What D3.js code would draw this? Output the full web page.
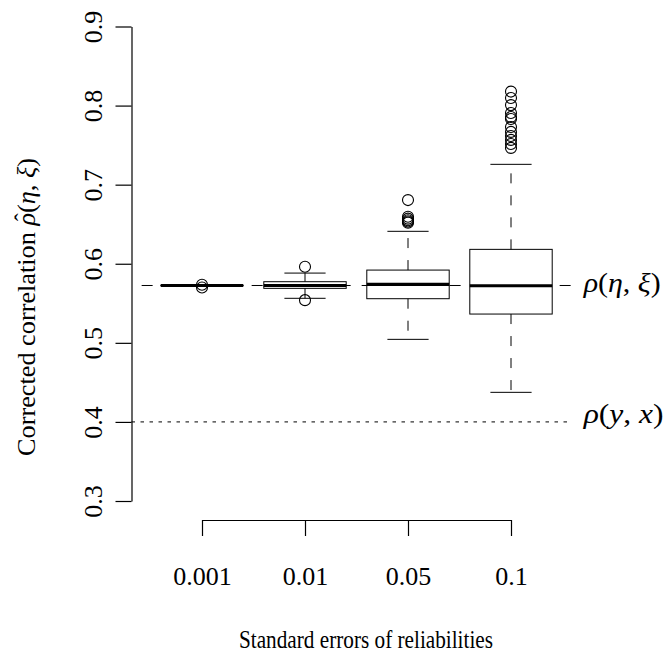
<!DOCTYPE html>
<html>
<head>
<meta charset="utf-8">
<script src="https://cdn.jsdelivr.net/npm/d3@7"></script>
<style>
  body { margin: 0; background: #fff; }
  svg { display: block; }
  text { font-family: "Liberation Serif", "DejaVu Serif", serif; fill: #000; }
</style>
</head>
<body>
<div id="chart"></div>
<script>
// groups = standard errors of reliabilities
const groups = ["0.001", "0.01", "0.05", "0.1"];
const lowerWhisker = [0.5722, 0.5563, 0.5044, 0.4374];
const lowerHinge   = [0.5723, 0.5689, 0.5558, 0.5364];
const medians      = [0.5725, 0.5725, 0.5740, 0.5722];
const upperHinge   = [0.5727, 0.5773, 0.5920, 0.6182];
const upperWhisker = [0.5729, 0.5882, 0.6410, 0.7257];
const outliers = [
  [0.5735, 0.5700],
  [0.5962, 0.5540],
  [0.6805, 0.6595, 0.6570, 0.6550, 0.6535, 0.6520],
  [0.8177, 0.8095, 0.8006, 0.7906, 0.7855, 0.7830, 0.7729, 0.7667, 0.7616, 0.7566, 0.7515, 0.7465]
];
const yTicks = [0.3, 0.4, 0.5, 0.6, 0.7, 0.8, 0.9];
const rhoTrue = 0.5725;   // rho(eta, xi)
const rhoObs = 0.4;       // rho(y, x)

const width = 668, height = 663;
const yAxisX = 131.5, xAxisY = 520;
const boxWex = 0.8;
const serif = "'Liberation Serif', 'DejaVu Serif', serif";

const x = d3.scaleLinear().domain([1, 4]).range([202, 511]);
const y = d3.scaleLinear().domain([0.3, 0.9]).range([501, 26.5]);

const svg = d3.select("#chart").append("svg")
  .attr("width", width)
  .attr("height", height)
  .attr("font-family", serif);

// y axis
const gy = svg.append("g")
  .attr("transform", `translate(${yAxisX},0)`)
  .call(d3.axisLeft(y).tickValues(yTicks).tickSize(16).tickSizeOuter(0).tickFormat(d3.format(".1f")))
  .attr("font-family", serif)
  .attr("font-size", 26);
gy.selectAll("path, line").attr("stroke", "#000").attr("stroke-width", 1.2);
gy.selectAll("text")
  .attr("transform", "rotate(-90)")
  .attr("x", 0).attr("y", -30).attr("dy", 0)
  .attr("text-anchor", "middle");

// x axis
const gx = svg.append("g")
  .attr("transform", `translate(0,${xAxisY})`)
  .call(d3.axisBottom(x).tickValues([1, 2, 3, 4]).tickSize(16).tickSizeOuter(0).tickFormat(i => groups[i - 1]))
  .attr("font-family", serif)
  .attr("font-size", 26);
gx.selectAll("path, line").attr("stroke", "#000").attr("stroke-width", 1.2);
gx.selectAll("text").attr("y", 65).attr("dy", 0);

// boxes
const boxes = groups.map((g, i) => ({
  i: i + 1, lo: lowerWhisker[i], q1: lowerHinge[i], med: medians[i],
  q3: upperHinge[i], hi: upperWhisker[i], out: outliers[i]
}));
const halfBox = (x(2) - x(1)) * boxWex / 2;
const halfCap = halfBox / 2;

const bg = svg.append("g").selectAll("g").data(boxes).join("g");

// whiskers (dashed)
bg.append("line")
  .attr("x1", d => x(d.i)).attr("x2", d => x(d.i))
  .attr("y1", d => y(d.q3)).attr("y2", d => y(d.hi))
  .attr("stroke", "#000").attr("stroke-dasharray", "10,12");
bg.append("line")
  .attr("x1", d => x(d.i)).attr("x2", d => x(d.i))
  .attr("y1", d => y(d.q1)).attr("y2", d => y(d.lo))
  .attr("stroke", "#000").attr("stroke-dasharray", "10,12");

// caps
bg.selectAll(".cap").data(d => [d.lo, d.hi].map(v => ({ i: d.i, v }))).join("line")
  .attr("class", "cap")
  .attr("x1", d => x(d.i) - halfCap).attr("x2", d => x(d.i) + halfCap)
  .attr("y1", d => y(d.v)).attr("y2", d => y(d.v))
  .attr("stroke", "#000");

// box
bg.append("rect")
  .attr("x", d => x(d.i) - halfBox)
  .attr("width", halfBox * 2)
  .attr("y", d => y(d.q3))
  .attr("height", d => y(d.q1) - y(d.q3))
  .attr("fill", "none").attr("stroke", "#000");

// median
bg.append("line")
  .attr("x1", d => x(d.i) - halfBox).attr("x2", d => x(d.i) + halfBox)
  .attr("y1", d => y(d.med)).attr("y2", d => y(d.med))
  .attr("stroke", "#000").attr("stroke-width", 3.2);

// outliers
bg.selectAll("circle").data(d => d.out.map(v => ({ i: d.i, v }))).join("circle")
  .attr("cx", d => x(d.i)).attr("cy", d => y(d.v))
  .attr("r", 5.5)
  .attr("fill", "none").attr("stroke", "#000").attr("stroke-width", 1.1);

// reference lines
svg.append("line")
  .attr("x1", x(0.414)).attr("x2", x(4.59))
  .attr("y1", y(rhoTrue)).attr("y2", y(rhoTrue))
  .attr("stroke", "#000").attr("stroke-dasharray", "11,11");
svg.append("line")
  .attr("x1", yAxisX).attr("x2", x(4.55))
  .attr("y1", y(rhoObs)).attr("y2", y(rhoObs))
  .attr("stroke", "#000").attr("stroke-dasharray", "3.5,5.5");

// right-hand labels
function mathLabel(parts, xPos, yPos, len) {
  const t = svg.append("text")
    .attr("x", xPos).attr("y", yPos)
    .attr("textLength", len).attr("lengthAdjust", "spacingAndGlyphs")
    .style("font-size", "28px");
  parts.forEach(p => t.append("tspan").text(p[0]).style("font-style", p[1] ? "italic" : "normal"));
  return t;
}
mathLabel([["ρ", true], ["(", false], ["η", true], [", ", false], ["ξ", true], [")", false]],
  x(4.55) + 16, y(rhoTrue) + 7, 77);
mathLabel([["ρ", true], ["(", false], ["y", true], [", ", false], ["x", true], [")", false]],
  x(4.55) + 16, y(rhoObs) + 1, 80);

// axis titles
svg.append("text")
  .attr("x", 366).attr("y", 648)
  .attr("text-anchor", "middle")
  .attr("textLength", 254).attr("lengthAdjust", "spacingAndGlyphs")
  .style("font-size", "26px")
  .text("Standard errors of reliabilities");

const yTitle = svg.append("g").attr("transform", "translate(35,307) rotate(-90)");
const yt = yTitle.append("text")
  .attr("text-anchor", "middle")
  .attr("textLength", 298).attr("lengthAdjust", "spacingAndGlyphs")
  .style("font-size", "26px");
const yParts = [["Corrected correlation ", false], ["ρ", true], ["(", false], ["η", true], [", ", false], ["ξ", true], [")", false]];
yParts.forEach(p => yt.append("tspan").text(p[0]).style("font-style", p[1] ? "italic" : "normal"));

// hat over rho
const rhoIdx = yParts[0][0].length;
const node = yt.node();
const p0 = node.getStartPositionOfChar(rhoIdx);
const p1 = node.getEndPositionOfChar(rhoIdx);
yTitle.append("text")
  .attr("x", (p0.x + p1.x) / 2 + 2)
  .attr("y", p0.y - 4)
  .attr("text-anchor", "middle")
  .style("font-size", "24px")
  .text("\u02C6");
</script>
</body>
</html>
